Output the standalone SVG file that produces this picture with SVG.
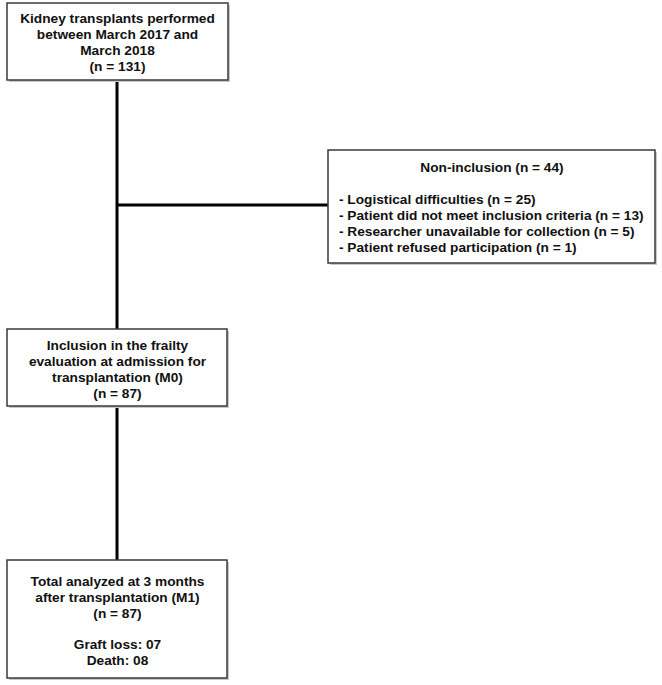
<svg xmlns="http://www.w3.org/2000/svg" width="662" height="685" viewBox="0 0 662 685">
<style>
.box{fill:#fff;stroke:#3a3a3a;stroke-width:1.5}
.sh{fill:#c8c8c8}
.t{font-family:"Liberation Sans",Arial,sans-serif;font-weight:bold;font-size:13.7px;fill:#111}
.c{text-anchor:middle}
.ln{stroke:#000;stroke-width:3;fill:none}
</style>
<rect width="662" height="685" fill="#fff"/>
<g id="connectors">
<line class="ln" x1="117" y1="80" x2="117" y2="329"/>
<line class="ln" x1="117" y1="205" x2="328" y2="205"/>
<line class="ln" x1="117" y1="406" x2="117" y2="560"/>
</g>
<g id="n1">
<rect class="sh" x="9" y="5" width="221" height="77"/>
<rect class="box" x="7" y="3" width="221" height="77"/>
<text class="t c" x="117.5" y="23">Kidney transplants performed</text>
<text class="t c" x="117.5" y="39">between March 2017 and</text>
<text class="t c" x="117.5" y="55">March 2018</text>
<text class="t c" x="117.5" y="71">(n = 131)</text>
</g>
<g id="n2">
<rect class="sh" x="330" y="152" width="327" height="113"/>
<rect class="box" x="328" y="150" width="327" height="113"/>
<text class="t c" x="492" y="172">Non-inclusion (n = 44)</text>
<text class="t" x="339" y="204">- Logistical difficulties (n = 25)</text>
<text class="t" x="339" y="220">- Patient did not meet inclusion criteria (n = 13)</text>
<text class="t" x="339" y="236">- Researcher unavailable for collection (n = 5)</text>
<text class="t" x="339" y="252">- Patient refused participation (n = 1)</text>
</g>
<g id="n3">
<rect class="sh" x="9" y="331" width="220" height="77"/>
<rect class="box" x="7" y="329" width="220" height="77"/>
<text class="t c" x="117.5" y="350">Inclusion in the frailty</text>
<text class="t c" x="117.5" y="366">evaluation at admission for</text>
<text class="t c" x="117.5" y="382">transplantation (M0)</text>
<text class="t c" x="117.5" y="398">(n = 87)</text>
</g>
<g id="n4">
<rect class="sh" x="9" y="562" width="220" height="118"/>
<rect class="box" x="7" y="560" width="220" height="118"/>
<text class="t c" x="117.5" y="586">Total analyzed at 3 months</text>
<text class="t c" x="117.5" y="602">after transplantation (M1)</text>
<text class="t c" x="117.5" y="618">(n = 87)</text>
<text class="t c" x="117.5" y="649">Graft loss: 07</text>
<text class="t c" x="117.5" y="665">Death: 08</text>
</g>
</svg>
